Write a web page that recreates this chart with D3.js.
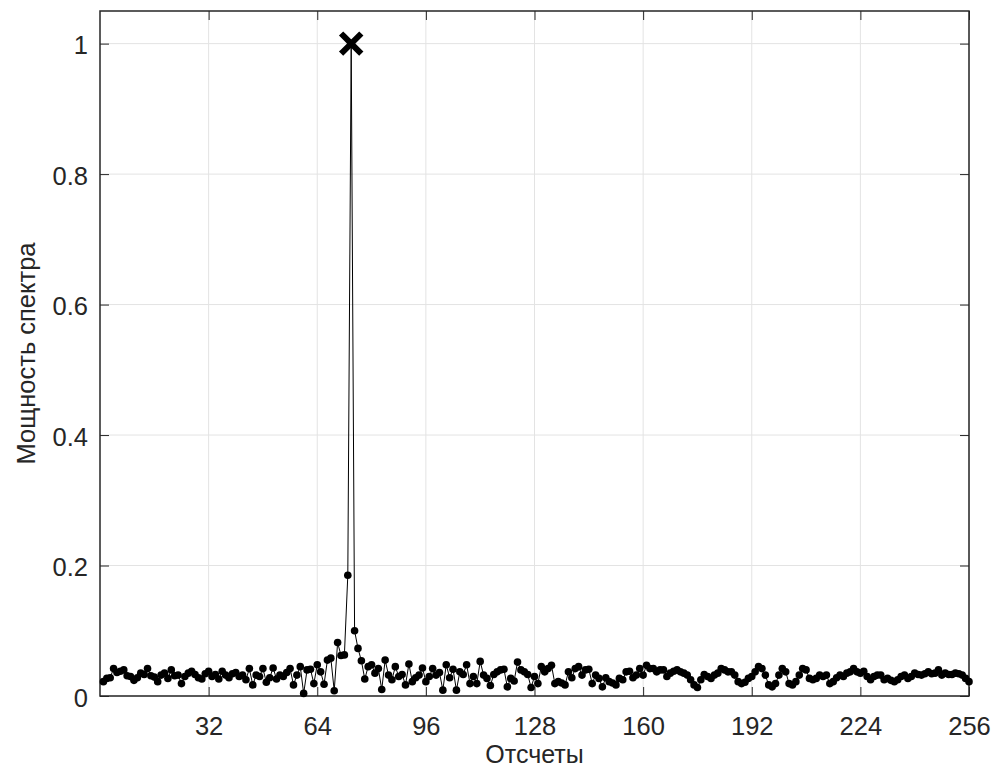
<!DOCTYPE html>
<html>
<head>
<meta charset="utf-8">
<script src="https://cdn.jsdelivr.net/npm/d3@7"></script>
<style>
  body { margin: 0; background: #fff; }
  text { font-family: "Liberation Sans", Arial, sans-serif; fill: #262626; }
</style>
</head>
<body>
<div id="chart"></div>
<script>
// spectrum power, samples 1..256
const power = [
  0.022, 0.027, 0.028, 0.042, 0.036, 0.038, 0.040, 0.031, 0.030, 0.024,
  0.028, 0.035, 0.033, 0.042, 0.031, 0.029, 0.022, 0.032, 0.035, 0.027,
  0.040, 0.031, 0.032, 0.019, 0.030, 0.035, 0.038, 0.033, 0.028, 0.026,
  0.034, 0.038, 0.030, 0.033, 0.026, 0.038, 0.032, 0.028, 0.034, 0.036,
  0.030, 0.032, 0.025, 0.042, 0.017, 0.032, 0.030, 0.042, 0.021, 0.028,
  0.043, 0.026, 0.032, 0.030, 0.036, 0.042, 0.017, 0.032, 0.045, 0.004,
  0.040, 0.041, 0.019, 0.048, 0.037, 0.018, 0.055, 0.058, 0.008, 0.082,
  0.062, 0.063, 0.185, 1.000, 0.100, 0.073, 0.054, 0.026, 0.045, 0.048,
  0.035, 0.042, 0.010, 0.055, 0.032, 0.025, 0.045, 0.030, 0.033, 0.017,
  0.049, 0.022, 0.028, 0.032, 0.043, 0.022, 0.030, 0.042, 0.032, 0.036,
  0.009, 0.048, 0.028, 0.041, 0.009, 0.037, 0.033, 0.048, 0.019, 0.030,
  0.019, 0.053, 0.032, 0.027, 0.016, 0.033, 0.037, 0.040, 0.041, 0.014,
  0.027, 0.023, 0.052, 0.040, 0.037, 0.033, 0.013, 0.030, 0.019, 0.045,
  0.037, 0.042, 0.047, 0.019, 0.022, 0.020, 0.017, 0.037, 0.028, 0.042,
  0.045, 0.032, 0.040, 0.041, 0.019, 0.032, 0.027, 0.014, 0.028, 0.022,
  0.020, 0.017, 0.027, 0.025, 0.037, 0.038, 0.028, 0.032, 0.042, 0.032,
  0.047, 0.042, 0.042, 0.037, 0.040, 0.040, 0.030, 0.035, 0.038, 0.040,
  0.037, 0.035, 0.032, 0.025, 0.017, 0.013, 0.025, 0.033, 0.030, 0.027,
  0.032, 0.035, 0.042, 0.040, 0.037, 0.037, 0.032, 0.022, 0.019, 0.021,
  0.027, 0.030, 0.037, 0.045, 0.042, 0.032, 0.017, 0.014, 0.019, 0.032,
  0.042, 0.037, 0.019, 0.017, 0.022, 0.032, 0.042, 0.040, 0.027, 0.025,
  0.027, 0.032, 0.030, 0.032, 0.019, 0.022, 0.028, 0.032, 0.030, 0.035,
  0.037, 0.042, 0.037, 0.035, 0.038, 0.030, 0.025, 0.030, 0.032, 0.032,
  0.025, 0.027, 0.024, 0.022, 0.025, 0.030, 0.032, 0.027, 0.030, 0.035,
  0.033, 0.032, 0.034, 0.037, 0.034, 0.035, 0.040, 0.032, 0.035, 0.033,
  0.033, 0.035, 0.034, 0.032, 0.027, 0.022
];
const xTicks = [32, 64, 96, 128, 160, 192, 224, 256];
const yTicks = [0, 0.2, 0.4, 0.6, 0.8, 1];
const peakIndex = 74;
const xLabel = "Отсчеты";
const yLabel = "Мощность спектра";

const data = power.map((v, i) => ({n: i + 1, v: v}));

const W = 991, H = 769;
const margin = {top: 11, right: 22, bottom: 73, left: 100};
const width = W - margin.left - margin.right;
const height = H - margin.top - margin.bottom;

const svg = d3.select("#chart").append("svg")
    .attr("width", W)
    .attr("height", H)
    .append("g")
    .attr("transform", "translate(" + margin.left + "," + margin.top + ")");

const x = d3.scaleLinear().domain([0, 256]).range([0, width]);
const y = d3.scaleLinear().domain([0, 1.05]).range([height, 0]);

// grid
svg.append("g")
    .selectAll("line.gx")
    .data(xTicks)
    .enter().append("line")
    .attr("x1", d => x(d)).attr("x2", d => x(d))
    .attr("y1", 0).attr("y2", height)
    .attr("stroke", "#e3e3e3").attr("stroke-width", 1);
svg.append("g")
    .selectAll("line.gy")
    .data(yTicks)
    .enter().append("line")
    .attr("x1", 0).attr("x2", width)
    .attr("y1", d => y(d)).attr("y2", d => y(d))
    .attr("stroke", "#e3e3e3").attr("stroke-width", 1);

const fontSize = "25.5px";
const tickLen = 9;

// X axis (bottom + top)
svg.append("g")
    .attr("transform", "translate(0," + height + ")")
    .call(d3.axisBottom(x).tickValues(xTicks).tickSizeInner(-tickLen).tickSizeOuter(0).tickPadding(21))
    .call(g => g.select(".domain").remove())
    .call(g => g.selectAll("line").attr("stroke", "#262626"))
    .call(g => g.selectAll("text").style("font-size", fontSize).attr("fill", "#262626"));
svg.append("g")
    .call(d3.axisTop(x).tickValues(xTicks).tickSizeInner(-tickLen).tickSizeOuter(0).tickFormat(""))
    .call(g => g.select(".domain").remove())
    .call(g => g.selectAll("line").attr("stroke", "#262626"));

// Y axis (left + right)
svg.append("g")
    .call(d3.axisLeft(y).tickValues(yTicks).tickSizeInner(-tickLen).tickSizeOuter(0).tickPadding(12).tickFormat(d3.format("~g")))
    .call(g => g.select(".domain").remove())
    .call(g => g.selectAll("line").attr("stroke", "#262626"))
    .call(g => g.selectAll("text").style("font-size", fontSize).attr("fill", "#262626").attr("dy", "0.4em"));
svg.append("g")
    .attr("transform", "translate(" + width + ",0)")
    .call(d3.axisRight(y).tickValues(yTicks).tickSizeInner(-tickLen).tickSizeOuter(0).tickFormat(""))
    .call(g => g.select(".domain").remove())
    .call(g => g.selectAll("line").attr("stroke", "#262626"));

// box
svg.append("rect")
    .attr("x", 0).attr("y", 0)
    .attr("width", width).attr("height", height)
    .attr("fill", "none")
    .attr("stroke", "#262626")
    .attr("stroke-width", 1.5);

// line
const line = d3.line().x(d => x(d.n)).y(d => y(d.v));
svg.append("path")
    .datum(data)
    .attr("d", line)
    .attr("fill", "none")
    .attr("stroke", "#000")
    .attr("stroke-width", 1);

// markers
svg.selectAll("circle.pt")
    .data(data)
    .enter().append("circle")
    .attr("cx", d => x(d.n))
    .attr("cy", d => y(d.v))
    .attr("r", 3.8)
    .attr("fill", "#000");

// peak marker
const peak = data.find(d => d.n === peakIndex);
const s = 8;
svg.append("path")
    .attr("d", `M${x(peak.n) - s},${y(peak.v) - s}L${x(peak.n) + s},${y(peak.v) + s}M${x(peak.n) - s},${y(peak.v) + s}L${x(peak.n) + s},${y(peak.v) - s}`)
    .attr("stroke", "#000")
    .attr("stroke-width", 6)
    .attr("stroke-linecap", "square")
    .attr("fill", "none");

// labels
svg.append("text")
    .attr("x", width / 2)
    .attr("y", height + 67)
    .attr("text-anchor", "middle")
    .style("font-size", "25px")
    .text(xLabel);
svg.append("text")
    .attr("transform", "translate(" + (-65) + "," + (height / 2) + ")rotate(-90)")
    .attr("text-anchor", "middle")
    .style("font-size", fontSize)
    .text(yLabel);
</script>
</body>
</html>
